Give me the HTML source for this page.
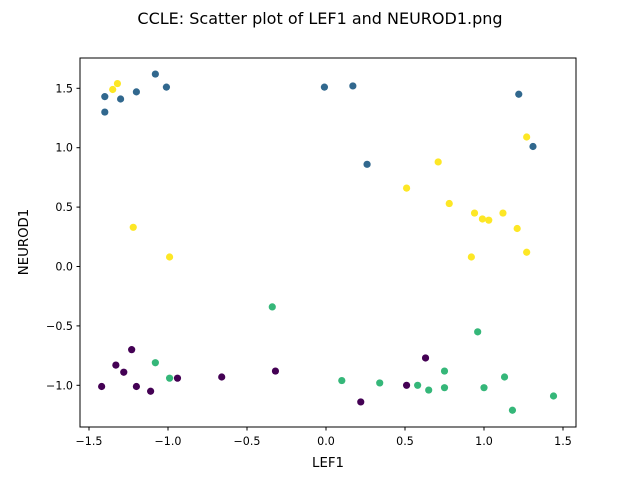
<!DOCTYPE html>
<html><head><meta charset="utf-8"><style>
body{margin:0;background:#fff;}
svg text{font-family:"DejaVu Sans","Liberation Sans",sans-serif;fill:#000;}
</style></head><body>
<svg id="chart" width="640" height="480" xmlns="http://www.w3.org/2000/svg">
<rect width="640" height="480" fill="#fff"/>
<text x="320" y="24" text-anchor="middle" font-size="16">CCLE: Scatter plot of LEF1 and NEUROD1.png</text>
<g id="marks"></g>
<rect x="80" y="58" width="496" height="369" fill="none" stroke="#000" stroke-width="1"/>
<g id="axes"></g>
<text x="328" y="467" text-anchor="middle" font-size="13.3">LEF1</text>
<text transform="translate(28,242) rotate(-90)" text-anchor="middle" font-size="13.3">NEUROD1</text>
</svg>
<script>
const xTicks=[-1.5,-1.0,-0.5,0.0,0.5,1.0,1.5];
const yTicks=[-1.0,-0.5,0.0,0.5,1.0,1.5];
const blueX=[-1.40,-1.40,-1.30,-1.20,-1.08,-1.01,-0.01,0.17,0.26,1.22,1.31];
const blueY=[1.43,1.30,1.41,1.47,1.62,1.51,1.51,1.52,0.86,1.45,1.01];
const yellowX=[-1.35,-1.32,-1.22,-0.99,0.51,0.71,0.78,0.94,0.92,0.99,1.03,1.12,1.21,1.27,1.27];
const yellowY=[1.49,1.54,0.33,0.08,0.66,0.88,0.53,0.45,0.08,0.40,0.39,0.45,0.32,1.09,0.12];
const greenX=[-0.34,-1.08,-0.99,0.10,0.34,0.58,0.65,0.75,0.75,0.96,1.00,1.13,1.18,1.44];
const greenY=[-0.34,-0.81,-0.94,-0.96,-0.98,-1.00,-1.04,-0.88,-1.02,-0.55,-1.02,-0.93,-1.21,-1.09];
const purpleX=[-1.42,-1.33,-1.28,-1.23,-1.20,-1.11,-0.94,-0.66,-0.32,0.22,0.51,0.63];
const purpleY=[-1.01,-0.83,-0.89,-0.70,-1.01,-1.05,-0.94,-0.93,-0.88,-1.14,-1.00,-0.77];
const NS="http://www.w3.org/2000/svg";
const sx=v=>326+v*158;
const sy=v=>266.5-v*118.8;
const marks=document.getElementById('marks');
const axes=document.getElementById('axes');
function series(xs,ys,color,name){
  xs.forEach((x,i)=>{
    const c=document.createElementNS(NS,'circle');
    c.setAttribute('cx',sx(x));c.setAttribute('cy',sy(ys[i]));
    c.setAttribute('r',3.6);c.setAttribute('fill',color);
    
    
    marks.appendChild(c);
  });
}
series(blueX,blueY,'#31688e','cluster-blue');
series(yellowX,yellowY,'#fde725','cluster-yellow');
series(greenX,greenY,'#35b779','cluster-green');
series(purpleX,purpleY,'#440154','cluster-purple');
xTicks.forEach(t=>{
  const x=sx(t);
  const l=document.createElementNS(NS,'line');
  l.setAttribute('x1',x);l.setAttribute('x2',x);l.setAttribute('y1',427);l.setAttribute('y2',430.5);l.setAttribute('stroke','#000');
  
  
  axes.appendChild(l);
  const tx=document.createElementNS(NS,'text');
  tx.setAttribute('x',x);tx.setAttribute('y',445);tx.setAttribute('text-anchor','middle');tx.setAttribute('font-size','11.1');
  tx.textContent=t<0?'\u2212'+Math.abs(t).toFixed(1):t.toFixed(1);
  
  
  axes.appendChild(tx);
});
yTicks.forEach(t=>{
  const y=sy(t);
  const l=document.createElementNS(NS,'line');
  l.setAttribute('x1',76.5);l.setAttribute('x2',80);l.setAttribute('y1',y);l.setAttribute('y2',y);l.setAttribute('stroke','#000');
  
  
  axes.appendChild(l);
  const tx=document.createElementNS(NS,'text');
  tx.setAttribute('x',73);tx.setAttribute('y',y+4);tx.setAttribute('text-anchor','end');tx.setAttribute('font-size','11.1');
  tx.textContent=t<0?'\u2212'+Math.abs(t).toFixed(1):t.toFixed(1);
  
  
  axes.appendChild(tx);
});
</script>
</body></html>
